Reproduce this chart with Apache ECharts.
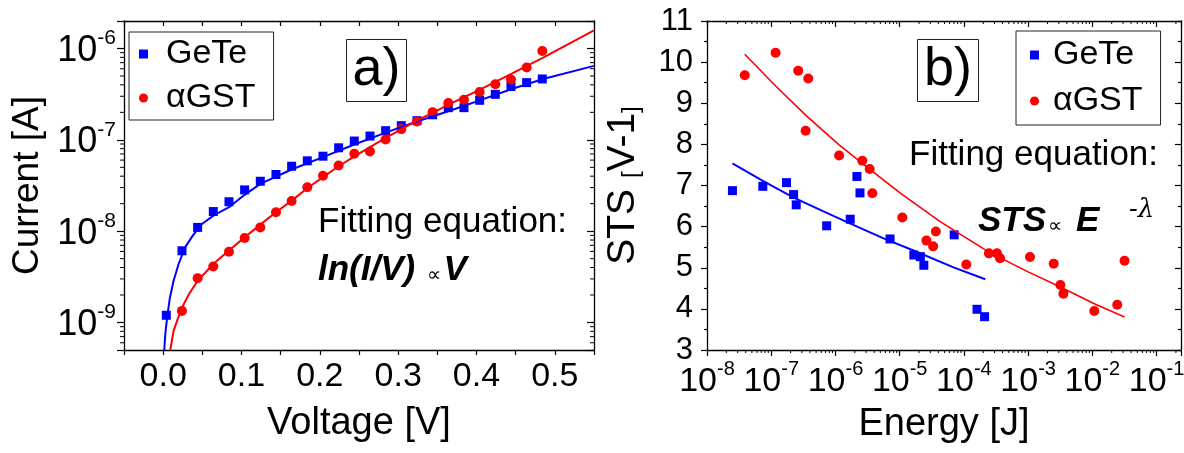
<!DOCTYPE html>
<html><head><meta charset="utf-8">
<script src="https://cdn.jsdelivr.net/npm/echarts@6/dist/echarts.min.js"></script>
<style>html,body{margin:0;padding:0;background:#fff}#c{width:1184px;height:453px}</style>
</head><body><div id="c"></div>
<script>
const FONT = "'Liberation Sans', Arial, Helvetica, sans-serif";

// ---------- Panel a) : Current vs Voltage ----------
const geteV = [0.004,0.024,0.044,0.064,0.084,0.104,0.124,0.144,0.164,0.184,0.204,0.224,0.244,0.264,0.284,0.304,0.324,0.344,0.364,0.384,0.404,0.424,0.444,0.464,0.484];
const geteI = [1.2e-9,6.1e-9,1.1e-8,1.64e-8,2.1e-8,2.83e-8,3.52e-8,4.17e-8,5.14e-8,5.89e-8,6.62e-8,8.18e-8,9.7e-8,1.1e-7,1.26e-7,1.43e-7,1.62e-7,1.88e-7,2.25e-7,2.25e-7,2.71e-7,3.15e-7,3.83e-7,4.23e-7,4.64e-7];
const gstV = [0.024,0.044,0.064,0.084,0.104,0.124,0.144,0.164,0.184,0.204,0.224,0.244,0.264,0.284,0.304,0.324,0.344,0.364,0.384,0.404,0.424,0.444,0.464,0.484];
const gstI = [1.34e-9,3.06e-9,4.11e-9,5.96e-9,8.41e-9,1.1e-8,1.61e-8,2.14e-8,3.03e-8,4.04e-8,5.24e-8,7.04e-8,7.46e-8,1.01e-7,1.31e-7,1.59e-7,2.01e-7,2.53e-7,2.75e-7,3.34e-7,4.06e-7,4.57e-7,6.18e-7,9.4e-7];
// fitted curves
const geteFitV = [0.0014,0.0027,0.0042,0.0056,0.0086,0.0133,0.0197,0.028,0.038,0.0495,0.065,0.0836,0.104,0.124,0.164,0.204,0.244,0.284,0.324,0.365,0.405,0.445,0.485,0.55];
const geteFitI = [5.0e-10,7.4e-10,9.8e-10,1.23e-9,1.87e-9,2.86e-9,4.37e-9,6.64e-9,9.0e-9,1.2e-8,1.5e-8,1.82e-8,2.5e-8,3.3e-8,4.73e-8,6.46e-8,8.9e-8,1.2e-7,1.59e-7,2.07e-7,2.72e-7,3.6e-7,4.64e-7,6.45e-7];
const gstFitV = [0.0091,0.0133,0.0227,0.033,0.044,0.064,0.0836,0.104,0.124,0.144,0.164,0.184,0.204,0.224,0.244,0.264,0.284,0.3045,0.324,0.3445,0.365,0.405,0.445,0.485,0.55];
const gstFitI = [5e-10,8.1e-10,1.38e-9,2.05e-9,2.86e-9,4.37e-9,6.1e-9,8.55e-9,1.18e-8,1.61e-8,2.16e-8,2.95e-8,3.9e-8,5.14e-8,6.58e-8,8.32e-8,1.05e-7,1.31e-7,1.63e-7,1.98e-7,2.45e-7,3.57e-7,5.32e-7,7.96e-7,1.58e-6];

// ---------- Panel b) : STS vs Energy ----------
const geteE = [2.49e-8,7.4e-8,1.73e-7,2.23e-7,2.45e-7,7.3e-7,1.70e-6,2.16e-6,2.41e-6,7.08e-6,1.66e-5,2.1e-5,2.38e-5,7.06e-5,1.6e-4,2.1e-4];
const geteSTS = [6.875,6.98,7.07,6.78,6.53,6.02,6.18,7.22,6.82,5.70,5.31,5.27,5.06,5.80,3.99,3.81];
const gstE = [3.87e-8,1.17e-7,2.63e-7,3.77e-7,3.43e-7,1.14e-6,2.62e-6,3.41e-6,3.75e-6,1.1e-5,2.61e-5,3.66e-5,3.32e-5,1.09e-4,2.45e-4,3.27e-4,3.65e-4,1.07e-3,2.5e-3,3.18e-3,3.54e-3,1.07e-2,2.44e-2,3.17e-2];
const gstSTS = [9.68,10.23,9.79,9.60,8.33,7.73,7.60,7.40,6.81,6.22,5.66,5.88,5.52,5.08,5.35,5.35,5.23,5.26,5.10,4.58,4.37,3.95,4.10,5.17];
const geteFitE = [2.49e-8,7.4e-8,2.2e-7,6.5e-7,1.68e-6,5.5e-6,1.64e-5,6.9e-5,2.15e-4];
const geteFitSTS = [7.54,7.11,6.71,6.37,6.08,5.72,5.42,5.01,4.72];
const gstFitE = [3.87e-8,1.17e-7,3.43e-7,1.14e-6,2.62e-6,1.01e-5,4.27e-5,2.45e-4,1.0e-3,3.18e-3,1.05e-2,3.17e-2];
const gstFitSTS = [10.19,9.42,8.71,7.99,7.54,6.82,6.12,5.38,4.90,4.53,4.13,3.80];

// ---------- axes ----------
const voltageRange = [-0.05, 0.55];
const currentRange = [5e-10, 2e-6];
const currentDecades = [-10,-9,-8,-7,-6];
const energyRange = [1e-8, 0.24];
const energyDecades = [-8,-7,-6,-5,-4,-3,-2,-1];
const stsRange = [3, 11];
const logMinorMult = [2,3,4,5,6,7,8,9];
const seriesNames = ['GeTe', 'αGST'];

const zip = (a, b) => a.map((x, i) => [x, b[i]]);
function minorVals(decades, range) {
  const out = [];
  decades.forEach(d => logMinorMult.forEach(m => {
    const v = m * Math.pow(10, d);
    if (v > range[0] * 1.0001 && v < range[1] * 0.9999) out.push(v);
  }));
  return out;
}
const cMinor = minorVals(currentDecades, currentRange);
const eMinor = minorVals(energyDecades, energyRange);

function logLabel(v) {
  const e = Math.log10(v), r = Math.round(e);
  if (Math.abs(e - r) > 1e-6) return '';
  return '{b|10}{sup|' + r + '}';
}
const BLUE = '#0000ff', RED = '#ff0000';
const axLine = { show: true, onZero: false, lineStyle: { color: '#000', width: 1.3 } };
const tickStyle = { color: '#000', width: 1.2 };

const option = {
  animation: false,
  backgroundColor: '#fff',
  textStyle: { fontFamily: FONT, color: '#000' },
  grid: [
    { left: 124, right: 590, top: 21, bottom: 103, outerBoundsMode: 'none', containLabel: false },
    { left: 707, right: 3, top: 21, bottom: 103, outerBoundsMode: 'none', containLabel: false }
  ],
  xAxis: [
    { gridIndex: 0, type: 'value', min: voltageRange[0], max: voltageRange[1], interval: 0.05, position: 'bottom',
      axisLine: axLine, axisTick: { show: true, length: 5, lineStyle: tickStyle }, splitLine: { show: false },
      axisLabel: { fontSize: 34, color: '#000', fontFamily: FONT, margin: 10,
        formatter: v => (Math.round(v * 100) % 10 === 0 ? (Math.round(v * 10) / 10).toFixed(1) : '') },
      name: 'Voltage [V]', nameLocation: 'middle', nameGap: 55, nameMoveOverlap: false,
      nameTextStyle: { fontSize: 38, color: '#000', fontFamily: FONT } },
    { gridIndex: 0, type: 'value', min: voltageRange[0], max: voltageRange[1], interval: 0.05, position: 'top',
      axisLine: axLine, axisTick: { show: true, inside: true, length: 5, lineStyle: tickStyle },
      axisLabel: { show: false }, splitLine: { show: false } },
    { gridIndex: 1, type: 'log', logBase: 10, min: energyRange[0], max: energyRange[1], position: 'bottom',
      axisLine: axLine, axisTick: { show: true, length: 6, lineStyle: tickStyle }, splitLine: { show: false },
      axisLabel: { color: '#000', fontFamily: FONT, margin: 9, showMinLabel: true, showMaxLabel: true, formatter: logLabel,
        rich: { b: { fontSize: 34, fontFamily: FONT, color: '#000', verticalAlign: 'bottom' },
                sup: { fontSize: 20, fontFamily: FONT, color: '#000', verticalAlign: 'top', padding: [0, 0, 20, 0] } } },
      name: 'Energy [J]', nameLocation: 'middle', nameGap: 56, nameMoveOverlap: false,
      nameTextStyle: { fontSize: 38, color: '#000', fontFamily: FONT } },
    { gridIndex: 1, type: 'log', logBase: 10, min: energyRange[0], max: energyRange[1], position: 'top',
      axisLine: axLine, axisTick: { show: true, inside: true, length: 6, lineStyle: tickStyle },
      axisLabel: { show: false }, splitLine: { show: false } }
  ],
  yAxis: [
    { gridIndex: 0, type: 'log', logBase: 10, min: currentRange[0], max: currentRange[1], position: 'left',
      axisLine: axLine, axisTick: { show: true, length: 7, lineStyle: tickStyle }, splitLine: { show: false },
      axisLabel: { color: '#000', fontFamily: FONT, margin: 8, showMinLabel: true, showMaxLabel: true, formatter: logLabel,
        rich: { b: { fontSize: 36, fontFamily: FONT, color: '#000', verticalAlign: 'bottom' },
                sup: { fontSize: 21, fontFamily: FONT, color: '#000', verticalAlign: 'top', padding: [0, 0, 20, 0] } } },
      name: 'Current [A]', nameLocation: 'middle', nameGap: 78, nameMoveOverlap: false,
      nameTextStyle: { fontSize: 37, color: '#000', fontFamily: FONT } },
    { gridIndex: 0, type: 'log', logBase: 10, min: currentRange[0], max: currentRange[1], position: 'right',
      axisLine: axLine, axisTick: { show: true, inside: true, length: 7, lineStyle: tickStyle },
      axisLabel: { show: false }, splitLine: { show: false } },
    { gridIndex: 1, type: 'value', min: stsRange[0], max: stsRange[1], interval: 1, position: 'left',
      axisLine: axLine, axisTick: { show: true, length: 6, lineStyle: tickStyle },
      minorTick: { show: true, splitNumber: 2, length: 3, lineStyle: tickStyle }, splitLine: { show: false },
      axisLabel: { fontSize: 31, color: '#000', fontFamily: FONT, margin: 14 },
      name: '{a|STS }{s|[}{a|V-1}{s|]}', nameLocation: 'middle', nameGap: 64, nameMoveOverlap: false,
      nameTextStyle: { color: '#000', fontFamily: FONT,
        rich: { a: { fontSize: 39, fontFamily: FONT, color: '#000', verticalAlign: 'bottom' },
                s: { fontSize: 24, fontFamily: FONT, color: '#000', verticalAlign: 'bottom' } } } },
    { gridIndex: 1, type: 'value', min: stsRange[0], max: stsRange[1], interval: 1, position: 'right',
      axisLine: axLine, axisTick: { show: true, inside: true, length: 6, lineStyle: tickStyle },
      minorTick: { show: true, splitNumber: 2, length: 3, lineStyle: tickStyle },
      axisLabel: { show: false }, splitLine: { show: false } }
  ],
  legend: [
    { data: seriesNames, selectedMode: false, orient: 'vertical', left: 129, top: 32,
      borderColor: '#222', borderWidth: 1, padding: [3, 18, 3, 10], itemWidth: 9, itemHeight: 9, itemGap: 6,
      textStyle: { fontSize: 34, lineHeight: 38, color: '#000', fontFamily: FONT, padding: [0, 0, 0, 13] } },
    { data: seriesNames, selectedMode: false, orient: 'vertical', left: 1016, top: 31,
      borderColor: '#222', borderWidth: 1, padding: [5, 18, 5, 14], itemWidth: 9, itemHeight: 9, itemGap: 8,
      textStyle: { fontSize: 34, lineHeight: 38, color: '#000', fontFamily: FONT, padding: [0, 0, 0, 9] } }
  ],
  series: [
    { name: 'GeTe fit a', type: 'line', xAxisIndex: 0, yAxisIndex: 0, data: zip(geteFitV, geteFitI),
      showSymbol: false, smooth: false, lineStyle: { color: BLUE, width: 2 }, itemStyle: { color: BLUE } },
    { name: 'αGST fit a', type: 'line', xAxisIndex: 0, yAxisIndex: 0, data: zip(gstFitV, gstFitI),
      showSymbol: false, smooth: false, lineStyle: { color: RED, width: 2 }, itemStyle: { color: RED } },
    { name: 'GeTe', type: 'scatter', xAxisIndex: 0, yAxisIndex: 0, data: zip(geteV, geteI),
      symbol: 'rect', symbolSize: 9, itemStyle: { color: BLUE, opacity: 1 } },
    { name: 'αGST', type: 'scatter', xAxisIndex: 0, yAxisIndex: 0, data: zip(gstV, gstI),
      symbol: 'circle', symbolSize: 10, itemStyle: { color: RED, opacity: 1 } },
    { name: 'minor a', type: 'custom', xAxisIndex: 0, yAxisIndex: 0, silent: true,
      data: cMinor.map(v => [0, v]),
      renderItem: (params, api) => {
        const v = api.value(1);
        const l = api.coord([voltageRange[0], v]);
        const r = api.coord([voltageRange[1], v]);
        return { type: 'group', children: [
          { type: 'line', shape: { x1: l[0] - 4, y1: l[1], x2: l[0], y2: l[1] }, style: { stroke: '#000', lineWidth: 1 } },
          { type: 'line', shape: { x1: r[0] - 4, y1: r[1], x2: r[0], y2: r[1] }, style: { stroke: '#000', lineWidth: 1 } }
        ] };
      } },
    { name: 'GeTe fit b', type: 'line', xAxisIndex: 2, yAxisIndex: 2, data: zip(geteFitE, geteFitSTS),
      showSymbol: false, smooth: false, lineStyle: { color: BLUE, width: 2 }, itemStyle: { color: BLUE } },
    { name: 'αGST fit b', type: 'line', xAxisIndex: 2, yAxisIndex: 2, data: zip(gstFitE, gstFitSTS),
      showSymbol: false, smooth: false, lineStyle: { color: RED, width: 1.6 }, itemStyle: { color: RED } },
    { name: 'GeTe', type: 'scatter', xAxisIndex: 2, yAxisIndex: 2, data: zip(geteE, geteSTS),
      symbol: 'rect', symbolSize: 9, itemStyle: { color: BLUE, opacity: 1 } },
    { name: 'αGST', type: 'scatter', xAxisIndex: 2, yAxisIndex: 2, data: zip(gstE, gstSTS),
      symbol: 'circle', symbolSize: 10, itemStyle: { color: RED, opacity: 1 } },
    { name: 'minor b', type: 'custom', xAxisIndex: 2, yAxisIndex: 2, silent: true,
      data: eMinor.map(v => [v, 5]),
      renderItem: (params, api) => {
        const v = api.value(0);
        const b = api.coord([v, stsRange[0]]);
        const t = api.coord([v, stsRange[1]]);
        return { type: 'group', children: [
          { type: 'line', shape: { x1: b[0], y1: b[1], x2: b[0], y2: b[1] + 3 }, style: { stroke: '#000', lineWidth: 1 } },
          { type: 'line', shape: { x1: t[0], y1: t[1], x2: t[0], y2: t[1] + 3 }, style: { stroke: '#000', lineWidth: 1 } }
        ] };
      } }
  ],
  graphic: [
    { type: 'group', left: 346, top: 39, children: [
      { type: 'rect', shape: { x: 0, y: 0, width: 60, height: 62 }, style: { fill: '#fff', stroke: '#222', lineWidth: 1 } },
      { type: 'text', x: 30, y: 31, style: { text: 'a)', fontSize: 54, fontFamily: FONT, fill: '#000',
        textAlign: 'center', align: 'center', textVerticalAlign: 'middle', verticalAlign: 'middle' } }
    ] },
    { type: 'group', left: 917, top: 39, children: [
      { type: 'rect', shape: { x: 0, y: 0, width: 61, height: 62 }, style: { fill: '#fff', stroke: '#222', lineWidth: 1 } },
      { type: 'text', x: 30.5, y: 31, style: { text: 'b)', fontSize: 54, fontFamily: FONT, fill: '#000',
        textAlign: 'center', align: 'center', textVerticalAlign: 'middle', verticalAlign: 'middle' } }
    ] },
    { type: 'text', x: 318, y: 222, style: { text: 'Fitting equation:', fontSize: 35, fontFamily: FONT, fill: '#000',
      textVerticalAlign: 'middle', verticalAlign: 'middle' } },
    { type: 'text', x: 318, y: 270, style: { text: '{a|ln(I/V)} {b|∝}{a|V}', fill: '#000',
      textVerticalAlign: 'middle', verticalAlign: 'middle',
      rich: { a: { fontSize: 35, fontFamily: FONT, fontWeight: 'bold', fontStyle: 'italic', fill: '#000', verticalAlign: 'bottom' },
              b: { fontSize: 20, fontFamily: FONT, fill: '#000', verticalAlign: 'bottom', padding: [0, 3, 2, 8] } } } },
    { type: 'text', x: 909, y: 155, style: { text: 'Fitting equation:', fontSize: 35, fontFamily: FONT, fill: '#000',
      textVerticalAlign: 'middle', verticalAlign: 'middle' } },
    { type: 'text', x: 978, y: 221, style: { text: '{a|STS}{b|∝}{a|E}', fill: '#000',
      textVerticalAlign: 'middle', verticalAlign: 'middle',
      rich: { a: { fontSize: 35, fontFamily: FONT, fontWeight: 'bold', fontStyle: 'italic', fill: '#000', verticalAlign: 'bottom' },
              b: { fontSize: 20, fontFamily: FONT, fill: '#000', verticalAlign: 'bottom', padding: [0, 14, 2, 2] } } } },
    { type: 'text', x: 1129, y: 210, style: { text: '-λ', fontSize: 26, fontStyle: 'italic', fontFamily: "'DejaVu Serif', serif", fill: '#000',
      textVerticalAlign: 'middle', verticalAlign: 'middle' } }
  ]
};
const chart = echarts.init(document.getElementById('c'), null, { renderer: 'canvas' });
chart.setOption(option);
</script>
</body></html>
